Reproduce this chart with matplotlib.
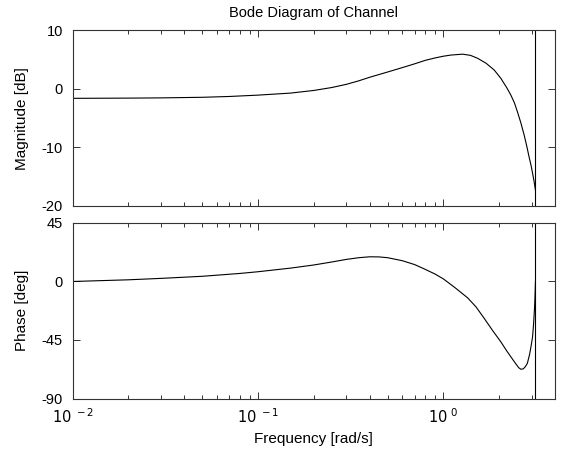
import numpy as np
import matplotlib
matplotlib.use("Agg")
import matplotlib.pyplot as plt
from matplotlib.ticker import LogLocator, NullFormatter, FixedLocator

plt.rcParams["font.family"] = ["Liberation Sans", "DejaVu Sans"]

# magnitude response [dB]
mag_freq = [0.01, 0.02, 0.03, 0.05, 0.07, 0.1, 0.15, 0.2, 0.25, 0.3, 0.35,
            0.4, 0.5, 0.6, 0.7, 0.8, 0.9, 1.0, 1.1, 1.27, 1.4, 1.53, 1.7,
            1.88, 2.04, 2.2, 2.31, 2.42, 2.51, 2.62, 2.73, 2.82, 2.9, 2.97,
            3.03, 3.09, 3.14]
mag_db = [-1.6, -1.56, -1.52, -1.42, -1.28, -1.05, -0.7, -0.25, 0.25, 0.8,
          1.4, 2.0, 2.9, 3.65, 4.3, 4.9, 5.3, 5.6, 5.8, 5.95, 5.75, 5.25,
          4.4, 3.25, 1.85, 0.2, -1.0, -2.4, -3.9, -5.8, -7.9, -9.8, -11.6,
          -13.0, -14.4, -15.9, -17.3]

# phase response [deg]
ph_freq = [0.01, 0.02, 0.03, 0.05, 0.08, 0.1, 0.15, 0.2, 0.25, 0.3, 0.35,
           0.4, 0.45, 0.5, 0.6, 0.7, 0.78, 0.9, 1.0, 1.15, 1.35, 1.5, 1.66,
           1.85, 2.04, 2.2, 2.31, 2.45, 2.55, 2.62, 2.7, 2.77, 2.84, 2.92,
           2.98, 3.03, 3.07, 3.1, 3.12, 3.14]
ph_deg = [0.0, 1.3, 2.4, 4.0, 6.2, 7.5, 10.3, 12.7, 15.0, 17.0, 18.3,
          19.0, 18.9, 18.3, 16.0, 13.0, 10.0, 5.8, 2.0, -4.5, -12.5, -19.5,
          -28.3, -38.0, -46.3, -53.5, -57.8, -63.0, -66.3, -67.5, -67.2,
          -65.5, -62.9, -56.0, -49.0, -42.4, -32.0, -21.9, -13.0, 0.0]

nyquist = np.pi  # sample time 1 s

fig = plt.figure(figsize=(5.68, 4.59), dpi=100)
ax1 = fig.add_axes([0.128, 0.5512, 0.849, 0.3824])
ax2 = fig.add_axes([0.128, 0.1318, 0.849, 0.3824])

frame = "#333333"
for ax in (ax1, ax2):
    ax.set_xscale("log")
    ax.set_xlim(0.01, 4.0)
    ax.axvline(nyquist, color="black", lw=0.8)
    ax.xaxis.set_major_locator(LogLocator(base=10))
    ax.xaxis.set_minor_locator(LogLocator(base=10, subs=np.arange(2, 10)))
    ax.xaxis.set_minor_formatter(NullFormatter())
    ax.tick_params(which="both", direction="in", top=True, right=True,
                   colors=frame, labelcolor="black", labelsize=10.5)
    ax.tick_params(which="major", length=5, width=0.7)
    ax.tick_params(which="minor", length=3, width=0.7)
    ax.tick_params(axis="y", pad=7)
    for sp in ax.spines.values():
        sp.set_color(frame)
        sp.set_linewidth(0.8)

ax1.plot(mag_freq, mag_db, color="black", lw=0.8)
ax1.set_ylim(-20, 10)
ax1.yaxis.set_major_locator(FixedLocator([-20, -10, 0, 10]))
ax1.set_yticklabels(["-20", "-10", "0", "10"])
ax1.tick_params(axis="x", labelbottom=False)
ax1.set_ylabel("Magnitude [dB]", fontsize=11, labelpad=9)
ax1.set_title("Bode Diagram of Channel", fontsize=10.5, pad=10)

ax2.plot(ph_freq, ph_deg, color="black", lw=0.8)
ax2.set_ylim(-90, 45)
ax2.yaxis.set_major_locator(FixedLocator([-90, -45, 0, 45]))
ax2.set_yticklabels(["-90", "-45", "0", "45"])
ax2.set_xticks([0.01, 0.1, 1.0])
ax2.set_xticklabels([r"$10^{\ -2}$", r"$10^{\ -1}$", r"$10^{\ 0}$"])
ax2.tick_params(axis="x", pad=6)
ax2.set_ylabel("Phase [deg]", fontsize=11, labelpad=9)
ax2.set_xlabel("Frequency [rad/s]", fontsize=11, labelpad=5)

fig.savefig("out.png", dpi=100)
